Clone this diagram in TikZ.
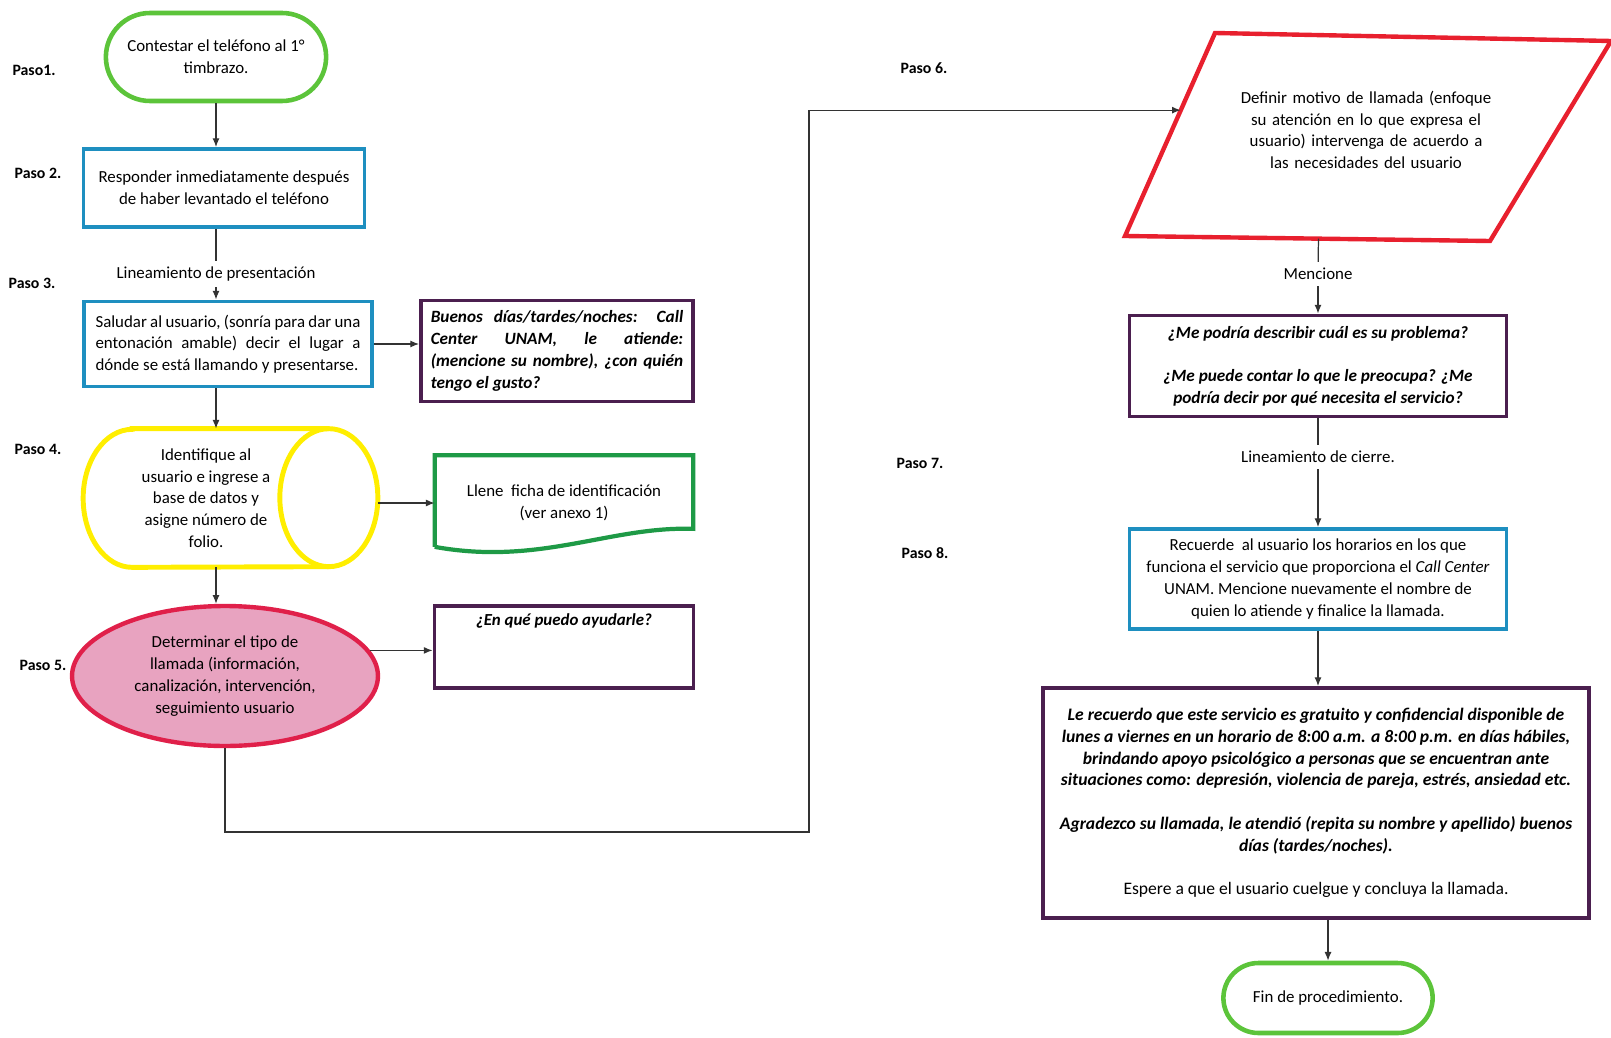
\documentclass[tikz,border=0pt]{standalone}
\usepackage{fontspec}
\setmainfont{Carlito}
\usetikzlibrary{shapes.geometric, shapes.misc, arrows.meta, positioning, calc}
\definecolor{termgreen}{HTML}{5CC43A}
\definecolor{boxblue}{HTML}{1E8FC0}
\definecolor{boxpurple}{HTML}{4B1F4F}
\definecolor{cylyellow}{HTML}{FFEE00}
\definecolor{ellred}{HTML}{E0204A}
\definecolor{ellpink}{HTML}{E8A3C0}
\definecolor{docgreen}{HTML}{1E9A46}
\definecolor{parared}{HTML}{E8202E}

\begin{document}
\begin{tikzpicture}[x=0.02cm, y=-0.02cm,
    every node/.style={font=\fontsize{9.6}{12.4}\selectfont},
    term/.style={draw=termgreen, line width=2.6pt, rounded rectangle, align=center},
    box/.style={draw, line width=2.2pt, rectangle, inner sep=4pt},
    quote/.style={font=\fontsize{9.8}{12.4}\selectfont\bfseries\itshape},
    paso/.style={font=\fontsize{9}{11}\selectfont\bfseries},
    link/.style={-{Latex[length=5pt, width=4pt]}, line width=0.7pt, draw=black!80},
    plain/.style={line width=0.7pt, draw=black!80}]
    \useasboundingbox (0,0) rectangle (1611,1037);

    % pasos
    \node[paso] (p1) at (34,70) {Paso1.};
    \node[paso] (p2) at (38,173) {Paso 2.};
    \node[paso] (p3) at (32,283) {Paso 3.};
    \node[paso] (p4) at (38,449) {Paso 4.};
    \node[paso] (p5) at (43,665) {Paso 5.};
    \node[paso] (p6) at (924,68) {Paso 6.};
    \node[paso] (p7) at (920,463) {Paso 7.};
    \node[paso] (p8) at (925,553) {Paso 8.};

    % left column
    \node[term, minimum width=4.64cm, minimum height=1.76cm] (s1) at (216,57) {Contestar el teléfono al 1°\\timbrazo.};
    \node[box, draw=boxblue, minimum width=5.62cm, minimum height=1.56cm, align=center] (s2) at (224,188) {Responder inmediatamente después\\de haber levantado el teléfono};
    \node (lpres) at (216,274) {Lineamiento de presentación};
    \node[box, draw=boxblue, minimum width=5.76cm, minimum height=1.7cm, text width=5.3cm, align=justify] (s3) at (228,344) {Saludar al usuario, (sonría para dar una\linebreak entonación amable) decir el lugar a\linebreak dónde se está llamando y presentarse.};
    \node[box, draw=boxpurple, quote, minimum width=5.44cm, minimum height=2.02cm, text width=5.05cm, align=justify] (saludo) at (557,351) {Buenos días/tardes/noches: Call\linebreak Center UNAM, le atiende:\linebreak (mencione su nombre), ¿con quién\linebreak tengo el gusto?};

    \node[minimum width=4.9cm, minimum height=2.76cm, align=center] (s4) at (206,498) {Identifique al\\usuario e ingrese a\\base de datos y\\asigne número de\\folio.};
    \draw[cylyellow, line width=2.8pt] ([xshift=0.98cm]s4.north west) -- (s4.north east)
        arc[start angle=-90, end angle=90, x radius=49, y radius=69]
        -- ([xshift=0.98cm]s4.south west)
        arc[start angle=90, end angle=270, x radius=49, y radius=69] -- cycle;
    \draw[cylyellow, line width=2.8pt] (s4.north east) arc[start angle=270, end angle=90, x radius=49, y radius=69];

    \node[minimum width=5.16cm, minimum height=1.9cm, align=center] (doc) at (564,503) {Llene\ \ ficha de identificación\\(ver anexo 1)};
    \draw[docgreen, line width=2.4pt] ($(doc.south west)+(0,-4)$) -- (doc.north west) -- (doc.north east)
        -- ($(doc.south east)+(0,-22)$) .. controls (610,526) and (540,566) .. ($(doc.south west)+(0,-4)$);

    \node[ellipse, draw=ellred, fill=ellpink, line width=2.5pt, minimum width=6.12cm, minimum height=2.8cm, inner sep=0pt, align=center] (s5) at (225,676) {Determinar el tipo de\\llamada (información,\\canalización, intervención,\\seguimiento usuario};
    \node[box, draw=boxpurple, minimum width=5.16cm, minimum height=1.64cm] (ayuda) at (564,647) {\parbox[c][1.35cm][t]{4.9cm}{\centering\bfseries\itshape ¿En qué puedo ayudarle?}};

    % right column
    \coordinate (ptl) at (1215,33);
    \coordinate (ptr) at (1611,41);
    \coordinate (pbr) at (1490,241);
    \coordinate (pbl) at (1125,236);
    \draw[parared, line width=2.5pt] (ptl) -- (ptr) -- (pbr) -- (pbl) -- cycle;
    \node[text width=5.4cm, align=center] (para) at (1366,130) {Definir motivo de llamada (enfoque\\su atención en lo que expresa el\\usuario) intervenga de acuerdo a\\las necesidades del usuario};
    \coordinate (pin) at ($(pbl)!0.62!(ptl)$);
    \coordinate (pbot) at ($(pbl)!0.53!(pbr)$);

    \node (ment) at (1318,274) {Mencione};
    \node[box, draw=boxpurple, quote, minimum width=7.54cm, minimum height=2.02cm, align=center] (preg) at (1318,366) {¿Me podría describir cuál es su problema?\\[12.4pt]¿Me puede contar lo que le preocupa? ¿Me\\podría decir por qué necesita el servicio?};
    \node (cierre) at (1318,457) {Lineamiento de cierre.};
    \node[box, draw=boxblue, minimum width=7.54cm, minimum height=2cm, align=center] (recu) at (1318,579) {Recuerde\ \ al usuario los horarios en los que\\funciona el servicio que proporciona el \textit{Call Center}\\UNAM. Mencione nuevamente el nombre de\\quien lo atiende y finalice la llamada.};
    \node[box, draw=boxpurple, minimum width=10.92cm, minimum height=4.6cm, align=center, font=\fontsize{10}{12.4}\selectfont] (aviso) at (1316,803) {\bfseries\itshape Le recuerdo que este servicio es gratuito y confidencial disponible de\\\bfseries\itshape lunes a viernes en un horario de 8:00 a.m. a 8:00 p.m. en días hábiles,\\\bfseries\itshape brindando apoyo psicológico a personas que se encuentran ante\\\bfseries\itshape situaciones como: depresión, violencia de pareja, estrés, ansiedad etc.\\[12.4pt]\bfseries\itshape Agradezco su llamada, le atendió (repita su nombre y apellido) buenos\\\bfseries\itshape días (tardes/noches).\\[12.4pt]Espere a que el usuario cuelgue y concluya la llamada.};
    \node[term, minimum width=4.42cm, minimum height=1.4cm] (fin) at (1328,998) {Fin de procedimiento.};

    % connectors
    \draw[link] (s1.south) -- (s1.south |- s2.north);
    \draw[plain] (s2.south -| lpres) -- (lpres);
    \draw[link] (lpres) -- (lpres |- s3.north);
    \draw[link] (lpres |- s3.south) -- (lpres |- s4.north);
    \draw[link] (lpres |- s4.south) -- (lpres |- s5.north);
    \draw[link] (s3.east) -- (s3.east -| saludo.west);
    \draw[link] ($(s4.east |- doc.west)+(49,0)$) -- (doc.west);
    \draw[link] (s5.10) -- (s5.10 -| ayuda.west);
    \coordinate (bend) at (809,832);
    \draw[link] (s5.south) |- (bend) |- (pin);
    \draw[plain] (pbot) -- (ment);
    \draw[link] (ment) -- (preg);
    \draw[plain] (preg) -- (cierre);
    \draw[link] (cierre) -- (recu);
    \draw[link] (recu) -- (recu |- aviso.north);
    \draw[link] (fin.north |- aviso.south) -- (fin.north);
\end{tikzpicture}
\end{document}
